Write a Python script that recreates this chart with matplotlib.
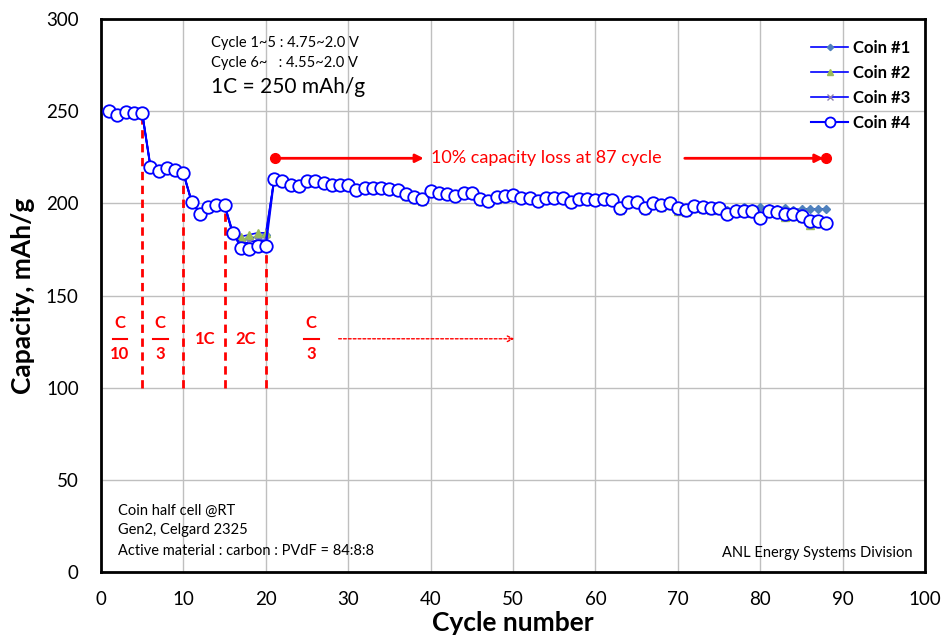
import matplotlib.pyplot as plt
import numpy as np

plt.rcParams['font.family'] = ['Lato', 'DejaVu Sans']

cycles = np.arange(1, 89)

coin4 = [250, 248, 249.5, 249, 249,
         220, 217.5, 219, 218, 216.5,
         201, 194.5, 198, 199, 199,
         184, 176, 175, 177, 177,
         213, 212, 210, 209.5, 212, 212, 211, 210, 210, 210,
         207.5, 208.5, 208.5, 208.5, 208, 207.5, 205, 203.5, 202.5, 207,
         205.5, 205, 204, 205.5, 205.5, 202.5, 201.5, 203.5, 204, 204.5,
         203, 203, 201.5, 203, 203, 203, 200.5, 202.5, 202.5, 202,
         202.5, 202, 197.5, 201, 201, 197.5, 200, 199, 200, 197.5,
         196.5, 198.5, 198, 197.5, 197.5, 194.5, 196, 196, 196, 192,
         196, 195.5, 194, 194, 193, 190.5, 190.5, 189.5]

coin1 = [250, 248.5, 249.5, 249, 249,
         220, 218, 219, 218, 216.5,
         201, 195, 198, 199, 199,
         184, 180, 181, 182, 183,
         213, 212, 210, 209.5, 212, 212, 211, 210, 210, 210,
         207.5, 208.5, 208.5, 208.5, 208, 207.5, 205, 204, 203, 207,
         205.5, 205, 204.5, 205.5, 205.5, 203, 202, 203.5, 204, 204.5,
         203, 203, 202, 203, 203, 203, 201, 202.5, 202.5, 202,
         202.5, 202, 198, 201, 201, 198, 200, 199, 200, 198,
         197, 198.5, 198, 198, 198, 196.5, 197.5, 198, 197.5, 198,
         197.5, 197, 197.5, 196.5, 197, 197, 197, 197]

coin2 = [250, 249, 250, 249, 249,
         219.5, 217.5, 218.5, 217.5, 216,
         200.5, 195, 197.5, 198.5, 198.5,
         183.5, 182, 183, 184, 184,
         212.5, 211.5, 209.5, 209, 211.5, 211.5, 210.5, 209.5, 209.5, 209.5,
         207, 208, 208, 208, 207.5, 207, 204, 202.5, 201.5, 206.5,
         205, 204.5, 203.5, 205, 205, 201.5, 200.5, 202.5, 203.5, 204,
         202.5, 202.5, 201, 202.5, 202.5, 202.5, 200, 202, 202, 201.5,
         202, 201.5, 196.5, 200.5, 200.5, 196.5, 199.5, 198, 199, 196,
         195.5, 197.5, 197, 196.5, 196.5, 194, 195.5, 195.5, 195, 193,
         195.5, 195, 192.5, 193, 192, 188.5, 189.5, 189.5]

coin3 = [250, 248.5, 249.5, 249, 249,
         220, 217.5, 219, 218, 216.5,
         201, 195, 198, 199, 199,
         183, 178, 179, 180, 180,
         213, 212, 210, 209.5, 212, 212, 211, 210, 210, 210,
         207.5, 208.5, 208.5, 208.5, 208, 207.5, 204.5, 203.5, 202.5, 207,
         205.5, 205, 204, 205.5, 205.5, 202.5, 201.5, 203.5, 204, 204.5,
         203, 203, 201.5, 203, 203, 203, 200, 202.5, 202.5, 202,
         202.5, 202, 197.5, 201, 201, 197.5, 200, 198, 200, 196.5,
         196, 198.5, 198, 197.5, 197.5, 195, 196.5, 196.5, 196.5, 194,
         196, 195.5, 194, 194, 193, 191, 191, 190.5]

# rate steps: boundary cycle and capacity where the dashed line stops
rate_edges = [5, 10, 15, 20]
rate_tops = [249, 216.5, 199, 177]

fig = plt.figure(figsize=(9.44, 6.41), dpi=100)
ax = fig.add_axes([0.107, 0.108, 0.873, 0.862])

line_blue = '#0000ff'
ax.plot(cycles, coin1, color=line_blue, lw=1.2, marker='D', ms=4,
        mfc='#4f81bd', mec='#4f81bd', label='Coin #1', zorder=3)
ax.plot(cycles, coin2, color=line_blue, lw=1.2, marker='^', ms=6,
        mfc='#9bbb59', mec='#9bbb59', label='Coin #2', zorder=3)
ax.plot(cycles, coin3, color=line_blue, lw=1.2, marker='x', ms=5,
        mfc='#8064a2', mec='#8c7fb0', label='Coin #3', zorder=3)
ax.plot(cycles, coin4, color=line_blue, lw=1.5, marker='o', ms=9,
        mfc='white', mec=line_blue, mew=1.3, label='Coin #4', zorder=4)

red = '#ff0000'
for xe, top in zip(rate_edges, rate_tops):
    ax.plot([xe, xe], [100, top], color=red, lw=2, ls=(0, (3, 2)), zorder=2)

rc = dict(color=red, fontsize=12, fontweight='bold', ha='center', va='center')
for xc, num, den in [(2.3, 'C', '10'), (7.2, 'C', '3'), (25.5, 'C', '3')]:
    ax.text(xc, 135, num, **rc)
    ax.text(xc, 118, den, **rc)
    ax.plot([xc - 0.9, xc + 0.9], [126.5, 126.5], color=red, lw=1.5)
ax.text(12.6, 126.5, '1C', **rc)
ax.text(17.6, 126.5, '2C', **rc)
ax.annotate('', xy=(50.5, 126.5), xytext=(28.5, 126.5),
            arrowprops=dict(arrowstyle='->', color=red, lw=1, ls=(0, (2, 1.5))))

# capacity-loss arrow
ax.annotate('', xy=(39.5, 224.5), xytext=(21.1, 224.5),
            arrowprops=dict(arrowstyle='-|>', color=red, lw=2, mutation_scale=12))
ax.annotate('', xy=(88, 224.5), xytext=(70.5, 224.5),
            arrowprops=dict(arrowstyle='-|>', color=red, lw=2, mutation_scale=12))
ax.plot([21.1, 88], [224.5, 224.5], ls='none', marker='o', ms=7, color=red, zorder=5)
ax.text(40.1, 224.5, '10% capacity loss at 87 cycle', color=red, fontsize=13,
        va='center', ha='left')

ax.text(13.3, 287, 'Cycle 1~5 : 4.75~2.0 V', fontsize=10.5, va='center')
ax.text(13.3, 276.5, 'Cycle 6~   : 4.55~2.0 V', fontsize=10.5, va='center')
ax.text(13.3, 263, '1C = 250 mAh/g', fontsize=15, va='center')

ax.text(2.1, 33, 'Coin half cell @RT', fontsize=10.5, va='center')
ax.text(2.1, 22.5, 'Gen2, Celgard 2325', fontsize=10.5, va='center')
ax.text(2.1, 11.5, 'Active material : carbon : PVdF = 84:8:8', fontsize=10.5, va='center')
ax.text(98.5, 10, 'ANL Energy Systems Division', fontsize=10.5, va='center', ha='right')

ax.set_xlim(0, 100)
ax.set_ylim(0, 300)
ax.set_xticks(np.arange(0, 101, 10))
ax.set_yticks(np.arange(0, 301, 50))
ax.grid(True, color='#bfbfbf', lw=1)
ax.set_axisbelow(True)
ax.tick_params(length=0, labelsize=13.5)
ax.tick_params(axis='x', pad=14)
ax.tick_params(axis='y', pad=16)
for s in ax.spines.values():
    s.set_linewidth(2)
    s.set_color('black')

ax.set_xlabel('Cycle number', fontsize=19, fontweight='bold', labelpad=2)
ax.set_ylabel('Capacity, mAh/g', fontsize=19, fontweight='bold', labelpad=8)

leg = ax.legend(loc='upper right', bbox_to_anchor=(1.0, 0.99), frameon=False,
                prop=dict(size=12, weight='bold'), handlelength=2.2,
                labelspacing=0.55, handletextpad=0.3, markerscale=0.8)

fig.savefig('out.png', dpi=100)
